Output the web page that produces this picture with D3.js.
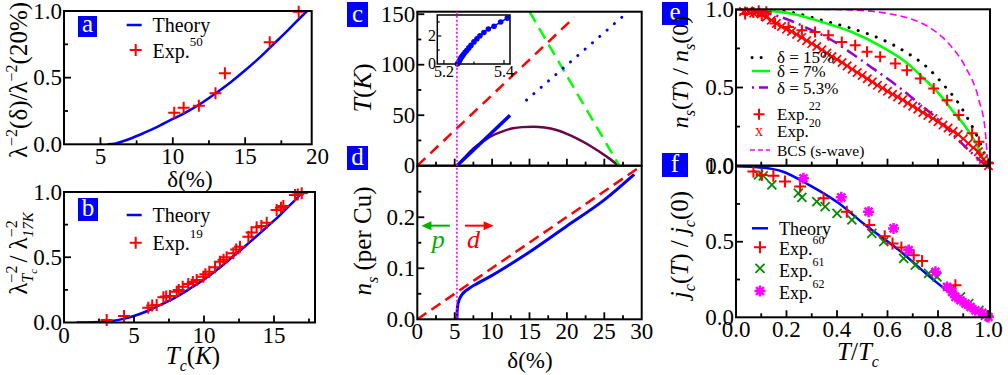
<!DOCTYPE html>
<html><head><meta charset="utf-8">
<script src="https://cdnjs.cloudflare.com/ajax/libs/d3/7.8.5/d3.min.js"></script>
<style>body{margin:0;background:#fff} svg{display:block}</style>
</head><body><svg id="fig" width="1008" height="375"></svg>
<script>
const FONT = 'Liberation Serif';
const RED = '#ff0000', BLUE = '#0000ff', GREEN = '#00ff00', MAG = '#ff00ff';

// ── (a) superfluid density vs doping ──
const aTheory = [[5.5,0],[6,0.005],[7,0.04],[8,0.085],[9,0.135],[10,0.19],[11,0.245],[12,0.31],[13,0.385],[14,0.465],[15,0.555],[16,0.65],[17,0.755],[18,0.86],[19,0.97],[19.4,1.01]];
const aExp = [[10.1,0.237],[10.75,0.275],[11.8,0.29],[12.95,0.383],[13.6,0.533],[16.7,0.765],[18.7,0.995]];

// ── (b) λ^-2 vs Tc ──
const bTheory = [[0.9,0],[2,0.002],[3,0.008],[4,0.022],[5,0.05],[6,0.09],[7,0.14],[8,0.195],[9,0.26],[10,0.33],[11,0.41],[12,0.5],[13,0.59],[14,0.685],[15,0.78],[16,0.885],[16.9,0.985],[17.0,1.0]];
const bExp = [[3.05,0.02],[4.29,0.05],[6.02,0.113],[6.3,0.13],[6.62,0.134],[7.1,0.193],[7.3,0.2],[7.57,0.203],[8.05,0.236],[8.2,0.25],[8.48,0.274],[8.88,0.295],[9.2,0.31],[9.48,0.326],[9.95,0.351],[10.1,0.37],[10.38,0.389],[10.79,0.423],[11.14,0.466],[11.4,0.48],[11.62,0.5],[12.1,0.53],[12.3,0.56],[12.57,0.58],[13.17,0.657],[13.4,0.69],[13.76,0.729],[14.1,0.74],[14.48,0.765],[15.19,0.862],[15.5,0.88],[15.67,0.893],[16.5,0.977],[16.7,0.98],[16.98,0.99]];

// ── (c) phase diagram ──
const cRedDash = [[0,0],[21,147]];
const cGreenDash = [[15,152.5],[27,0]];
const cBlueDot = [[14.6,65],[27.5,148]];
const cBlueSolid = [[5.3,0],[12.4,50]];
const cDome = [[5.3,0],[6,5.5],[7.5,17],[9,25],[10.2,30.4],[11.5,34.3],[12.8,37],[14,38.2],[15.5,38.6],[17,37.8],[18.6,35.3],[20,31.5],[21.3,27.1],[22.7,21.5],[24,15.5],[25.5,8],[26.9,0]];
const insetPts = [[5.245,0],[5.248,0.1],[5.251,0.2],[5.254,0.32],[5.257,0.44],[5.261,0.56],[5.265,0.68],[5.27,0.82],[5.276,0.96],[5.283,1.15],[5.29,1.33],[5.3,1.58],[5.31,1.8],[5.32,2.02],[5.333,2.25],[5.348,2.5],[5.367,2.7],[5.389,3.0],[5.411,3.28]];
const deltaC = 5.3;

// ── (d) n_s vs doping ──
const dRedDash = [[0,0],[29.5,0.296]];
const dBlue = [[5.3,0],[5.32,0.012],[5.38,0.025],[5.6,0.038],[5.95,0.048],[6.5,0.056],[7.05,0.062],[8,0.07],[10,0.086],[15,0.132],[20,0.183],[25,0.234],[29,0.284]];

// ── (e) n_s(T)/n_s(0) ──
const eBCS = [[0,1],[0.3,1],[0.42,0.998],[0.55,0.985],[0.644,0.96],[0.7,0.935],[0.763,0.887],[0.843,0.78],[0.909,0.63],[0.962,0.42],[0.988,0.21],[0.995,0.05]];
const eD15 = [[0,1],[0.15,0.995],[0.234,0.976],[0.34,0.93],[0.459,0.877],[0.578,0.807],[0.671,0.728],[0.763,0.62],[0.829,0.504],[0.882,0.398],[0.922,0.29],[0.962,0.164],[0.988,0.057],[1.0,0]];
const eD7 = [[0,1],[0.1,0.995],[0.221,0.972],[0.34,0.919],[0.459,0.855],[0.578,0.76],[0.671,0.664],[0.737,0.568],[0.803,0.462],[0.856,0.355],[0.909,0.249],[0.95,0.143],[0.981,0.036],[0.99,0]];
const eD53 = [[0,1],[0.08,0.99],[0.155,0.962],[0.287,0.877],[0.38,0.802],[0.459,0.717],[0.552,0.611],[0.644,0.504],[0.724,0.398],[0.803,0.292],[0.869,0.185],[0.935,0.079],[0.981,0.015],[1,0]];
const eExp22 = [[0.036,0.97],[0.069,0.98],[0.09,0.99],[0.102,0.96],[0.12,0.985],[0.155,0.909],[0.208,0.887],[0.261,0.866],[0.313,0.855],[0.366,0.834],[0.419,0.791],[0.472,0.77],[0.519,0.728],[0.571,0.696],[0.631,0.653],[0.677,0.611],[0.73,0.558],[0.783,0.494],[0.836,0.419],[0.882,0.324],[0.935,0.207],[0.962,0.153],[1.0,0.015]];
const eExp20 = [[0.03,0.985],[0.05,0.99],[0.07,0.975],[0.08,0.98],[0.1,0.97],[0.12,0.95],[0.14,0.93],[0.16,0.91],[0.18,0.89],[0.2,0.872],[0.22,0.858],[0.24,0.84],[0.26,0.82],[0.28,0.8],[0.3,0.781],[0.32,0.762],[0.34,0.741],[0.36,0.72],[0.38,0.698],[0.4,0.68],[0.42,0.66],[0.44,0.638],[0.46,0.617],[0.48,0.596],[0.5,0.577],[0.52,0.556],[0.54,0.536],[0.56,0.514],[0.58,0.496],[0.6,0.476],[0.62,0.457],[0.64,0.44],[0.66,0.421],[0.68,0.4],[0.7,0.381],[0.72,0.362],[0.74,0.34],[0.76,0.322],[0.78,0.302],[0.8,0.281],[0.82,0.26],[0.84,0.241],[0.86,0.22],[0.88,0.2],[0.9,0.172],[0.92,0.143],[0.94,0.115],[0.96,0.09],[0.97,0.06],[0.98,0.04],[0.99,0.02],[1.0,0.0]];

// ── (f) j_c(T)/j_c(0) ──
const fTheory = [[0,1],[0.075,0.995],[0.181,0.966],[0.287,0.878],[0.406,0.756],[0.512,0.61],[0.644,0.446],[0.776,0.256],[0.869,0.135],[0.948,0.046],[1.0,0]];
const fExp60 = [[0.069,0.964],[0.102,0.942],[0.148,0.936],[0.194,0.898],[0.254,0.865],[0.347,0.788],[0.439,0.699],[0.528,0.61],[0.589,0.537],[0.62,0.489],[0.655,0.462],[0.704,0.411],[0.737,0.372],[0.869,0.212],[0.995,0.007]];
const fExp61 = [[0.089,0.942],[0.108,0.936],[0.142,0.876],[0.247,0.821],[0.261,0.794],[0.32,0.765],[0.353,0.732],[0.4,0.688],[0.459,0.644],[0.538,0.555],[0.585,0.5],[0.664,0.39],[0.71,0.345],[0.763,0.29],[0.796,0.267],[0.856,0.19],[0.889,0.135],[0.922,0.091],[0.962,0.046],[0.988,0.013]];
const fExp62 = [[0.267,0.92],[0.417,0.794],[0.525,0.699],[0.624,0.588],[0.684,0.445],[0.79,0.301],[0.836,0.201],[0.856,0.168],[0.869,0.135],[0.889,0.113],[0.909,0.091],[0.929,0.068],[0.948,0.046],[0.975,0.029],[1.0,0.002]];

const svg = d3.select('#fig');
svg.append('rect').attr('width', 1008).attr('height', 375).attr('fill', '#fff');

const P = {
  a: { x: d3.scaleLinear().domain([2.48, 19.6]).range([64, 311.7]), y: d3.scaleLinear().domain([0, 1]).range([144.3, 11]) },
  b: { x: d3.scaleLinear().domain([0, 17.93]).range([64, 315]), y: d3.scaleLinear().domain([0, 1]).range([322.5, 192]) },
  c: { x: d3.scaleLinear().domain([0, 30]).range([417.3, 641.7]), y: d3.scaleLinear().domain([0, 152.5]).range([165.7, 11.7]) },
  d: { x: d3.scaleLinear().domain([0, 30]).range([417.3, 641.7]), y: d3.scaleLinear().domain([0, 0.301]).range([319.3, 165.7]) },
  e: { x: d3.scaleLinear().domain([0, 1.006]).range([736, 990]), y: d3.scaleLinear().domain([0, 1]).range([165.7, 9.3]) },
  f: { x: d3.scaleLinear().domain([0, 1.006]).range([736, 990]), y: d3.scaleLinear().domain([0, 1.003]).range([317.3, 165.7]) }
};

// clip paths
const defs = svg.append('defs');
Object.entries(P).forEach(([k, p]) => {
  const [x0, x1] = p.x.range(), [y0, y1] = p.y.range();
  defs.append('clipPath').attr('id', 'clip-' + k)
    .append('rect').attr('x', x0).attr('y', y1).attr('width', x1 - x0).attr('height', y0 - y1);
});

function rich(parent, x, y, segs, size, anchor, fill) {
  const t = parent.append('text').attr('x', x).attr('y', y)
    .attr('font-family', FONT).attr('font-size', size).attr('fill', fill || '#000');
  let cur = 0, prevW = 0;
  segs.forEach(s => {
    const sp = t.append('tspan').text(s.t);
    const off = s.off || 0;
    sp.attr('dy', off - cur); cur = off;
    if (s.sz) sp.attr('font-size', s.sz);
    if (s.it) sp.attr('font-style', 'italic');
    if (s.back) sp.attr('dx', -prevW);
    prevW = sp.node().getComputedTextLength();
  });
  if (anchor === 'middle') {
    const w = t.node().getBBox().width;
    t.attr('x', x - w / 2);
  }
  return t;
}

function axes(p, o) {
  const g = svg.append('g');
  const [x0, x1] = p.x.range(), [y0, y1] = p.y.range();
  const tick = (x, y, dx, dy) => g.append('line').attr('x1', x).attr('y1', y).attr('x2', x + dx).attr('y2', y + dy)
    .attr('stroke', '#000').attr('stroke-width', 1.8);
  (o.xMajor || []).forEach(v => { const x = p.x(v); if (x > x0 + 1 && x < x1 - 1) tick(x, y0, 0, -7); });
  (o.xMinor || []).forEach(v => { const x = p.x(v); if (x > x0 + 1 && x < x1 - 1) tick(x, y0, 0, -4); });
  (o.yMajor || []).forEach(v => { const y = p.y(v); if (y < y0 - 1 && y > y1 + 1) tick(x0, y, 7, 0); });
  (o.yMinor || []).forEach(v => { const y = p.y(v); if (y < y0 - 1 && y > y1 + 1) tick(x0, y, 4, 0); });
  if (o.xLabels) o.xLabels.forEach(([v, s]) => g.append('text').attr('x', p.x(v)).attr('y', y0 + 20)
    .attr('text-anchor', 'middle').attr('font-family', FONT).attr('font-size', o.fs || 23).text(s));
  if (o.yLabels) o.yLabels.forEach(([v, s]) => g.append('text').attr('x', x0 - 2).attr('y', p.y(v) + 7.5)
    .attr('text-anchor', 'end').attr('font-family', FONT).attr('font-size', o.fs || 23).text(s));
  g.append('rect').attr('x', x0).attr('y', y1).attr('width', x1 - x0).attr('height', y0 - y1)
    .attr('fill', 'none').attr('stroke', '#000').attr('stroke-width', 2);
}

function curve(k, data, color, width, dash, cap, curveType) {
  const p = P[k];
  svg.append('path').datum(data).attr('clip-path', `url(#clip-${k})`)
    .attr('fill', 'none').attr('stroke', color).attr('stroke-width', width)
    .attr('stroke-dasharray', dash || null).attr('stroke-linecap', cap || 'butt')
    .attr('d', d3.line().x(d => p.x(d[0])).y(d => p.y(d[1])).curve(curveType || d3.curveMonotoneX));
}

function markPath(kind, x, y, s) {
  if (kind === 'plus') return `M${x - s},${y}H${x + s}M${x},${y - s}V${y + s}`;
  if (kind === 'x') return `M${x - s},${y - s}L${x + s},${y + s}M${x - s},${y + s}L${x + s},${y - s}`;
  const q = s * 0.72;
  return `M${x - s},${y}H${x + s}M${x},${y - s}V${y + s}M${x - q},${y - q}L${x + q},${y + q}M${x - q},${y + q}L${x + q},${y - q}`;
}

function markers(k, data, kind, color, s, w) {
  const p = P[k];
  svg.append('g').selectAll('path').data(data).enter().append('path')
    .attr('d', d => markPath(kind, p.x(d[0]), p.y(d[1]), s))
    .attr('stroke', color).attr('stroke-width', w).attr('fill', 'none');
}

function panelLabel(x, y, w, h, s) {
  svg.append('rect').attr('x', x).attr('y', y).attr('width', w).attr('height', h).attr('fill', BLUE);
  svg.append('text').attr('x', x + w / 2).attr('y', y + h - 5).attr('text-anchor', 'middle')
    .attr('font-family', FONT).attr('font-size', 25).attr('fill', '#fff').text(s);
}

function legLine(x1, x2, y, color, width, dash, cap) {
  svg.append('line').attr('x1', x1).attr('x2', x2).attr('y1', y).attr('y2', y)
    .attr('stroke', color).attr('stroke-width', width).attr('stroke-dasharray', dash || null)
    .attr('stroke-linecap', cap || 'butt');
}
function legMark(kind, x, y, color, s, w) {
  svg.append('path').attr('d', markPath(kind, x, y, s)).attr('stroke', color).attr('stroke-width', w).attr('fill', 'none');
}

// ── Panel a ──
curve('a', aTheory, BLUE, 2.5);
markers('a', aExp, 'plus', RED, 6, 2);
axes(P.a, { xMajor: [5, 10, 15], xMinor: [7.5, 12.5, 17.5], yMajor: [0, 0.5, 1], yMinor: [0.25, 0.75],
  xLabels: [[5, '5'], [10, '10'], [15, '15'], [20, '20']], yLabels: [[0, '0.0'], [0.5, '0.5'], [1, '1.0']] });
panelLabel(78, 16, 19, 21, 'a');
legLine(126.7, 141.7, 25, BLUE, 2.5);
svg.append('text').attr('x', 152.5).attr('y', 31.5).attr('font-family', FONT).attr('font-size', 20).text('Theory');
legMark('plus', 135.7, 50, RED, 6, 2);
rich(svg, 152.5, 58, [{ t: 'Exp.' }, { t: '50', sz: 13, off: -12 }], 20);
rich(svg, 190, 187, [{ t: 'δ(%)' }], 23, 'middle');
rich(svg.append('g').attr('transform', 'translate(27,80) rotate(-90)'), 0, 0,
  [{ t: 'λ' }, { t: '−2', sz: 16, off: -10 }, { t: '(δ)/λ' }, { t: '−2', sz: 16, off: -10 }, { t: '(20%)' }], 25, 'middle');

// ── Panel b ──
curve('b', bTheory, BLUE, 2.5);
markers('b', bExp, 'plus', RED, 6, 2);
axes(P.b, { xMajor: [0, 5, 10, 15], xMinor: [2.5, 7.5, 12.5, 17.5], yMajor: [0, 0.5, 1], yMinor: [0.25, 0.75],
  xLabels: [[0, '0'], [5, '5'], [10, '10'], [15, '15']], yLabels: [[0, '0.0'], [0.5, '0.5'], [1, '1.0']] });
panelLabel(78, 198, 20, 23, 'b');
legLine(126.7, 141.7, 215, BLUE, 2.5);
svg.append('text').attr('x', 152.5).attr('y', 221.5).attr('font-family', FONT).attr('font-size', 20).text('Theory');
legMark('plus', 135.7, 242.7, RED, 6, 2);
rich(svg, 152.5, 250, [{ t: 'Exp.' }, { t: '19', sz: 13, off: -12 }], 20);
rich(svg, 193, 364, [{ t: 'T', it: 1 }, { t: 'c', it: 1, sz: 16, off: 7 }, { t: '(', off: 0 }, { t: 'K', it: 1 }, { t: ')' }], 25, 'middle');
rich(svg.append('g').attr('transform', 'translate(27,253) rotate(-90)'), 0, 0,
  [{ t: 'λ' }, { t: '−2', sz: 16, off: -10 }, { t: 'T', it: 1, sz: 16, off: 6, back: 1 }, { t: 'c', it: 1, sz: 11, off: 10 },
   { t: ' / λ', off: 0 }, { t: '−2', sz: 16, off: -10 }, { t: '17K', it: 1, sz: 15, off: 6, back: 1 }], 25, 'middle');

// ── Panel c ──
curve('c', cDome, '#670748', 2.5);
curve('c', cRedDash, RED, 2.5, '11,7', 'butt', d3.curveLinear);
curve('c', cGreenDash, GREEN, 2.5, '12,7', 'butt', d3.curveLinear);
curve('c', cBlueDot, BLUE, 3, '0.1,9.6', 'round', d3.curveLinear);
curve('c', cBlueSolid, BLUE, 3.5, null, 'butt', d3.curveLinear);
axes(P.c, { xMajor: d3.range(0, 31, 5), xMinor: d3.range(2.5, 30, 5), yMajor: [0, 50, 100, 150], yMinor: [25, 75, 125],
  yLabels: [[0, '0'], [50, '50'], [100, '100'], [150, '150']] });
panelLabel(347, 2, 21, 25, 'c');
rich(svg.append('g').attr('transform', 'translate(371,88) rotate(-90)'), 0, 0,
  [{ t: 'T', it: 1 }, { t: '(' }, { t: 'K', it: 1 }, { t: ')' }], 26, 'middle');

// inset
const inX = d3.scaleLinear().domain([5.178, 5.42]).range([437.3, 510]);
const inY = d3.scaleLinear().domain([0, 3.5]).range([64, 15]);
svg.append('rect').attr('x', 437.3).attr('y', 15).attr('width', 72.7).attr('height', 49).attr('fill', '#fff');
svg.append('path').datum(insetPts).attr('fill', 'none').attr('stroke', BLUE).attr('stroke-width', 1.5)
  .attr('d', d3.line().x(d => inX(d[0])).y(d => inY(d[1])));
svg.append('g').selectAll('circle').data(insetPts).enter().append('circle')
  .attr('cx', d => inX(d[0])).attr('cy', d => inY(d[1])).attr('r', 2.8).attr('fill', BLUE);
{
  const g = svg.append('g');
  [5.2, 5.3, 5.4].forEach((v, i) => g.append('line').attr('x1', inX(v)).attr('x2', inX(v)).attr('y1', 64).attr('y2', 64 - (i === 1 ? 2.5 : 4))
    .attr('stroke', '#000').attr('stroke-width', 1.2));
  [1, 2, 3].forEach(v => g.append('line').attr('x1', 437.3).attr('x2', 437.3 + (v === 2 ? 4 : 2.5)).attr('y1', inY(v)).attr('y2', inY(v))
    .attr('stroke', '#000').attr('stroke-width', 1.2));
  g.append('rect').attr('x', 437.3).attr('y', 15).attr('width', 72.7).attr('height', 49)
    .attr('fill', 'none').attr('stroke', '#000').attr('stroke-width', 1.5);
  [[0, '0'], [2, '2']].forEach(([v, s]) => g.append('text').attr('x', 436).attr('y', inY(v) + 5).attr('text-anchor', 'end')
    .attr('font-family', FONT).attr('font-size', 16).text(s));
  [[5.2, '5.2'], [5.4, '5.4']].forEach(([v, s]) => g.append('text').attr('x', inX(v)).attr('y', 77).attr('text-anchor', 'middle')
    .attr('font-family', FONT).attr('font-size', 16).text(s));
}

// ── Panel d ──
curve('d', dRedDash, RED, 2.5, '11,6', 'butt', d3.curveLinear);
curve('d', dBlue, BLUE, 3);
axes(P.d, { xMajor: d3.range(0, 31, 5), xMinor: d3.range(2.5, 30, 5), yMajor: [0, 0.1, 0.2, 0.3], yMinor: [0.05, 0.15, 0.25],
  xLabels: d3.range(0, 31, 5).map(v => [v, String(v)]), yLabels: [[0, '0.0'], [0.1, '0.1'], [0.2, '0.2']] });
panelLabel(347, 146, 21, 24, 'd');
// critical doping line across c and d
svg.append('line').attr('x1', P.c.x(deltaC)).attr('x2', P.c.x(deltaC)).attr('y1', P.c.y(152.5)).attr('y2', P.d.y(0))
  .attr('stroke', MAG).attr('stroke-width', 1.6).attr('stroke-dasharray', '2,2');
// p / d arrows
function arrow(xa, xb, y, color) {
  const X1 = P.d.x(xa), X2 = P.d.x(xb), Y = P.d.y(y), dir = Math.sign(X2 - X1);
  svg.append('line').attr('x1', X1).attr('x2', X2 - dir * 8).attr('y1', Y).attr('y2', Y).attr('stroke', color).attr('stroke-width', 2);
  svg.append('path').attr('d', `M${X2},${Y}L${X2 - dir * 10},${Y - 4.5}L${X2 - dir * 10},${Y + 4.5}Z`).attr('fill', color);
}
arrow(4.36, 0.55, 0.1835, '#00b000');
arrow(6.38, 10.2, 0.1835, RED);
svg.append('text').attr('x', P.d.x(2.8)).attr('y', P.d.y(0.14)).attr('text-anchor', 'middle').attr('font-family', FONT)
  .attr('font-style', 'italic').attr('font-size', 26).attr('fill', '#00b000').text('p');
svg.append('text').attr('x', P.d.x(7.5)).attr('y', P.d.y(0.14)).attr('text-anchor', 'middle').attr('font-family', FONT)
  .attr('font-style', 'italic').attr('font-size', 26).attr('fill', RED).text('d');
rich(svg, 530, 368, [{ t: 'δ(%)' }], 23, 'middle');
rich(svg.append('g').attr('transform', 'translate(371,241) rotate(-90)'), 0, 0,
  [{ t: 'n', it: 1 }, { t: 's', it: 1, sz: 16, off: 7 }, { t: ' (per  Cu)', off: 0 }], 25, 'middle');

// ── Panel e ──
curve('e', eBCS, MAG, 1.6, '7,4');
curve('e', eD15, '#000', 3, '0.1,9.5', 'round');
curve('e', eD7, GREEN, 2.5);
curve('e', eD53, '#9400d3', 2.5, '12,5,2,5');
markers('e', eExp20, 'x', RED, 4.2, 1.7);
markers('e', eExp22, 'plus', RED, 5.5, 2);
axes(P.e, { xMajor: d3.range(0, 1.01, 0.2), xMinor: d3.range(0.1, 1, 0.2), yMajor: [0, 0.5, 1], yMinor: [0.25, 0.75],
  yLabels: [[0, '0.0'], [0.5, '0.5'], [1, '1.0']] });
panelLabel(662, 2, 26, 23, 'e');
legLine(752, 770, 57.5, '#000', 3, '0.1,9', 'round');
rich(svg, 777, 63, [{ t: 'δ = 15%' }], 17);
legLine(752, 770, 71, GREEN, 2.5);
rich(svg, 777, 77, [{ t: 'δ = 7%' }], 17);
legLine(752, 770, 87.5, '#9400d3', 2.5, '2,5,9,5');
rich(svg, 777, 93.5, [{ t: 'δ = 5.3%' }], 17);
legMark('plus', 759, 114.3, RED, 5.5, 2);
rich(svg, 777, 120, [{ t: 'Exp.' }, { t: '22', sz: 12, off: -10 }], 17);
svg.append('text').attr('x', 759).attr('y', 136).attr('text-anchor', 'middle').attr('font-family', FONT)
  .attr('font-size', 16).attr('fill', RED).text('x');
rich(svg, 777, 137, [{ t: 'Exp.' }, { t: '20', sz: 12, off: -10 }], 17);
legLine(750, 770, 150, MAG, 1.6, '5,3');
rich(svg, 777, 155.5, [{ t: 'BCS (s-wave)' }], 15.5);
rich(svg.append('g').attr('transform', 'translate(688,72) rotate(-90)'), 0, 0,
  [{ t: 'n', it: 1 }, { t: 's', it: 1, sz: 16, off: 7 }, { t: '(', off: 0 }, { t: 'T', it: 1 }, { t: ') / ' },
   { t: 'n', it: 1 }, { t: 's', it: 1, sz: 16, off: 7 }, { t: '(0)', off: 0 }], 24, 'middle');

// ── Panel f ──
curve('f', fTheory, BLUE, 2.5);
markers('f', fExp61, 'x', '#008b00', 4.5, 1.8);
markers('f', fExp60, 'plus', RED, 6, 2);
markers('f', fExp62, 'star', MAG, 5.5, 2.5);
axes(P.f, { xMajor: d3.range(0, 1.01, 0.2), xMinor: d3.range(0.1, 1, 0.2), yMajor: [0, 0.5, 1], yMinor: [0.25, 0.75],
  xLabels: [[0, '0.0'], [0.2, '0.2'], [0.4, '0.4'], [0.6, '0.6'], [0.8, '0.8'], [1, '1.0']],
  yLabels: [[0, '0.0'], [0.5, '0.5'], [1, '1.0']] });
panelLabel(662, 153, 26, 24, 'f');
legLine(752, 768, 228.3, BLUE, 2.5);
rich(svg, 779, 234.5, [{ t: 'Theory' }], 18);
legMark('plus', 760, 247.3, RED, 6, 2);
rich(svg, 779, 255, [{ t: 'Exp.' }, { t: '60', sz: 12, off: -11 }], 18);
legMark('x', 760, 268.3, '#008b00', 4.5, 1.8);
rich(svg, 779, 277, [{ t: 'Exp.' }, { t: '61', sz: 12, off: -11 }], 18);
legMark('star', 760, 291, MAG, 5.5, 2.5);
rich(svg, 779, 299, [{ t: 'Exp.' }, { t: '62', sz: 12, off: -11 }], 18);
rich(svg, 858, 360, [{ t: 'T', it: 1 }, { t: '/' }, { t: 'T', it: 1 }, { t: 'c', it: 1, sz: 16, off: 7 }], 25, 'middle');
rich(svg.append('g').attr('transform', 'translate(688,243) rotate(-90)'), 0, 0,
  [{ t: 'j', it: 1 }, { t: 'c', it: 1, sz: 16, off: 7 }, { t: '(', off: 0 }, { t: 'T', it: 1 }, { t: ') / ' },
   { t: 'j', it: 1 }, { t: 'c', it: 1, sz: 16, off: 7 }, { t: '(0)', off: 0 }], 25, 'middle');
</script></body></html>
